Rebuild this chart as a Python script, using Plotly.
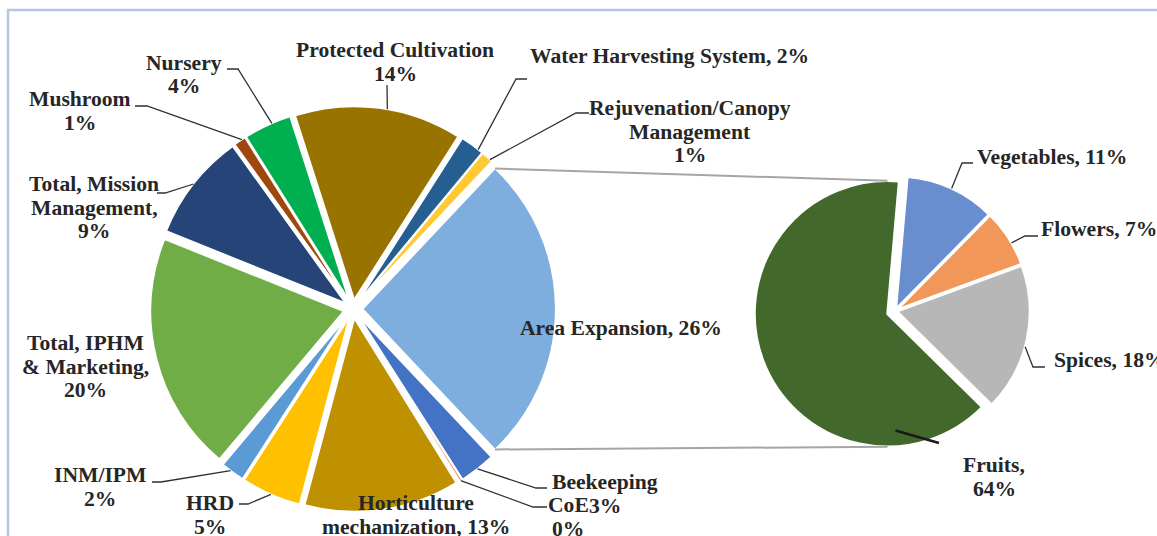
import math
import plotly.graph_objects as go

# ---------------------------------------------------------------- data
main_labels = [
    "Area Expansion", "Beekeeping", "CoE", "Horticulture mechanization",
    "HRD", "INM/IPM", "Total, IPHM & Marketing", "Total, Mission Management",
    "Mushroom", "Nursery", "Protected Cultivation", "Water Harvesting System",
    "Rejuvenation/Canopy Management",
]
main_share = [26, 3, 0.2, 13, 5, 2, 20, 9, 1, 4, 14, 2, 1]
main_colors = [
    "#7DAEDE", "#4472C4", "#ED7D31", "#BF9000", "#FFC000", "#5B9BD5",
    "#70AD47", "#264478", "#9E480E", "#00B050", "#997300", "#255E91", "#FFC933",
]

# breakdown of Area Expansion
sub_labels = ["Vegetables", "Flowers", "Spices", "Fruits"]
sub_share = [11, 7, 18, 64]
sub_colors = ["#698ED0", "#F1975A", "#B7B7B7", "#43682B"]

# ---------------------------------------------------------------- canvas
W, H = 1157, 536
FONT = "Liberation Serif"
TEXT = "#262626"
FONT_SIZE = 21.6


def px(x):
    return x / W


def py(y):
    return 1 - y / H


# pie geometry in pixels
MAIN_CX, MAIN_CY, MAIN_R, MAIN_PULL = 353, 309, 193, 0.05
SUB_CX, SUB_CY, SUB_R = 895, 311, 133
SUB_PULL = [0.015, 0.015, 0.015, 0.06]
SUB_ROT = 5

main_total = sum(main_share)
MAIN_ROT = 90 - main_share[0] / main_total * 360 / 2


def domain(cx, cy, r, maxpull):
    half = r * (1 + maxpull)
    return dict(x=[px(cx - half), px(cx + half)], y=[py(cy + half), py(cy - half)])


def slice_spans(values, rotation):
    total = sum(values)
    spans, a = [], rotation
    for v in values:
        b = a + v / total * 360
        spans.append((a, b))
        a = b
    return spans


main_spans = slice_spans(main_share, MAIN_ROT)
sub_spans = slice_spans(sub_share, SUB_ROT)


def edge_point(cx, cy, r, pull, span, frac=0.5, depth=1.0):
    a0, a1 = span
    mid = math.radians((a0 + a1) / 2)
    ox, oy = pull * r * math.sin(mid), -pull * r * math.cos(mid)
    ang = math.radians(a0 + (a1 - a0) * frac)
    rr = r * depth
    return cx + ox + rr * math.sin(ang), cy + oy - rr * math.cos(ang)


fig = go.Figure()

fig.add_trace(go.Pie(
    labels=main_labels, values=main_share, sort=False, direction="clockwise",
    rotation=MAIN_ROT, pull=[MAIN_PULL] * len(main_share),
    marker=dict(colors=main_colors, line=dict(color="white", width=1.5)),
    textinfo="none", hoverinfo="label+percent",
    domain=domain(MAIN_CX, MAIN_CY, MAIN_R, MAIN_PULL), showlegend=False,
))

fig.add_trace(go.Pie(
    labels=sub_labels, values=sub_share, sort=False, direction="clockwise",
    rotation=SUB_ROT, pull=SUB_PULL,
    marker=dict(colors=sub_colors, line=dict(color="white", width=2.5)),
    textinfo="none", hoverinfo="label+percent",
    domain=domain(SUB_CX, SUB_CY, SUB_R, max(SUB_PULL)), showlegend=False,
))

shapes = []

# frame
shapes.append(dict(type="rect", xref="paper", yref="paper",
                   x0=px(8), x1=px(1175), y0=py(560), y1=py(10),
                   line=dict(color="#B4C7E7", width=2.5), layer="below"))

# connectors between the split slice and the breakdown pie
ae = main_spans[0]
ae_top = edge_point(MAIN_CX, MAIN_CY, MAIN_R, MAIN_PULL, ae, frac=0.0)
ae_bot = edge_point(MAIN_CX, MAIN_CY, MAIN_R, MAIN_PULL, ae, frac=1.0)
fr_span = sub_spans[3]
fr_mid = math.radians(sum(fr_span) / 2)
fr_ox = SUB_PULL[3] * SUB_R * math.sin(fr_mid)
fr_oy = -SUB_PULL[3] * SUB_R * math.cos(fr_mid)
sub_top = (SUB_CX + fr_ox, SUB_CY + fr_oy - SUB_R)
sub_bot = (SUB_CX + fr_ox, SUB_CY + fr_oy + SUB_R)
for p, q in ((ae_top, sub_top), (ae_bot, sub_bot)):
    shapes.append(dict(type="line", xref="paper", yref="paper",
                       x0=px(p[0]), y0=py(p[1]), x1=px(q[0]), y1=py(q[1]),
                       line=dict(color="#A5A5A5", width=2)))

# leader lines: (pie, slice index, position within slice, depth, path to label)
leaders = [
    ("main", 9, 0.6, 1.0, [(238, 69), (227, 69)]),
    ("main", 8, 0.7, 1.0, [(147, 106), (135, 106)]),
    ("main", 7, 0.5, 1.0, [(165, 193), (157, 193)]),
    ("main", 10, 0.55, 1.0, [(387, 85)]),
    ("main", 11, 0.8, 1.0, [(516, 79), (527, 79)]),
    ("main", 12, 0.8, 1.0, [(576, 113), (589, 113)]),
    ("main", 1, 0.5, 1.0, [(536, 488), (547, 488)]),
    ("main", 2, 0.5, 1.0, [(533, 507), (547, 507)]),
    ("main", 5, 0.6, 1.0, [(161, 482), (152, 482)]),
    ("main", 4, 0.5, 1.0, [(248, 504), (239, 504)]),
    ("sub", 0, 0.5, 1.0, [(962, 163), (973, 163)]),
    ("sub", 1, 0.6, 1.0, [(1025, 236), (1038, 236)]),
    ("sub", 2, 0.55, 1.0, [(1033, 367), (1045, 367)]),
]
for pie, idx, frac, depth, path in leaders:
    if pie == "main":
        start = edge_point(MAIN_CX, MAIN_CY, MAIN_R, MAIN_PULL, main_spans[idx], frac, depth)
    else:
        start = edge_point(SUB_CX, SUB_CY, SUB_R, SUB_PULL[idx], sub_spans[idx], frac, depth)
    pts = [start] + path
    d = "M " + " L ".join(f"{px(x)},{py(y)}" for x, y in pts)
    shapes.append(dict(type="path", xref="paper", yref="paper", path=d,
                       line=dict(color="#303030", width=1.3)))

# the Fruits leader runs from inside the slice
fs = edge_point(SUB_CX, SUB_CY, SUB_R, SUB_PULL[3], sub_spans[3], 0.18, 0.88)
shapes.append(dict(type="line", xref="paper", yref="paper",
                   x0=px(fs[0]), y0=py(fs[1]), x1=px(939), y1=py(443),
                   line=dict(color="#1A1A1A", width=2.5)))

# ---------------------------------------------------------------- labels
pct = {lab: f"{round(v / main_total * 100):d}%" for lab, v in zip(main_labels, main_share)}
spct = {lab: f"{v}%" for lab, v in zip(sub_labels, sub_share)}

# (lines, centre x, first-line y, anchor)
label_blocks = [
    (["Protected Cultivation", pct["Protected Cultivation"]], 395, 50, "center"),
    (["Nursery", pct["Nursery"]], 184, 63, "center"),
    (["Mushroom", pct["Mushroom"]], 80, 99, "center"),
    (["Total, Mission", "Management,", pct["Total, Mission Management"]], 94, 184, "center"),
    ([f"Water Harvesting System, {pct['Water Harvesting System']}"], 669, 56, "center"),
    (["Rejuvenation/Canopy", "Management", pct["Rejuvenation/Canopy Management"]], 690, 108, "center"),
    ([f"Area Expansion, {pct['Area Expansion']}"], 621, 328, "center"),
    (["Total, IPHM", "& Marketing,", pct["Total, IPHM & Marketing"]], 85, 343, "center"),
    (["INM/IPM", pct["INM/IPM"]], 100, 475, "center"),
    (["HRD", pct["HRD"]], 210, 503, "center"),
    (["Horticulture", f"mechanization, {pct['Horticulture mechanization']}"], 416, 503, "center"),
    (["Beekeeping", pct["Beekeeping"]], 605, 482, "center"),
    (["CoE", pct["CoE"]], 568, 505, "center"),
    ([f"Vegetables, {spct['Vegetables']}"], 1052, 157, "center"),
    ([f"Flowers, {spct['Flowers']}"], 1099, 229, "center"),
    ([f"Spices, {spct['Spices']}"], 1052, 360, "left"),
    (["Fruits,", spct["Fruits"]], 994, 465, "center"),
]
LINE_GAP = 23.5
annotations = []
for lines, x, y, anchor in label_blocks:
    for i, line in enumerate(lines):
        annotations.append(dict(
            text=line, x=px(x), y=py(y + i * LINE_GAP), xref="paper", yref="paper",
            xanchor=anchor, yanchor="middle", showarrow=False,
            font=dict(family=FONT, size=FONT_SIZE, color=TEXT, weight="bold"),
        ))

fig.update_layout(
    width=W, height=H, margin=dict(l=0, r=0, t=0, b=0),
    paper_bgcolor="white", plot_bgcolor="white",
    shapes=shapes, annotations=annotations,
)

fig.write_html("out.html")
